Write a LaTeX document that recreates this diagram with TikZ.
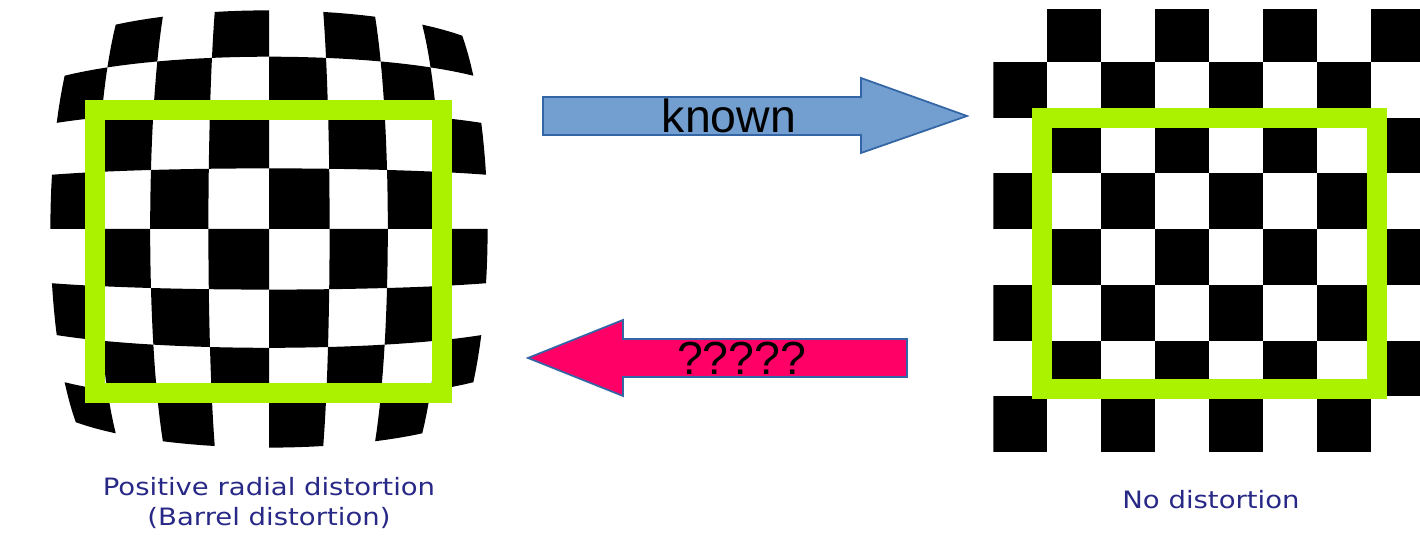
\documentclass[tikz,border=0pt]{standalone}
\usepackage{fontspec}
\setmainfont{Liberation Sans}
\newfontfamily\capfont[FakeStretch=1.15]{DejaVu Sans}
\usepackage{xcolor}
\usepackage{tikz}
\usetikzlibrary{positioning}
\definecolor{knownblue}{RGB}{114,159,207}
\definecolor{rimblue}{RGB}{52,101,164}
\definecolor{askpink}{RGB}{255,0,102}
\definecolor{framegreen}{RGB}{170,242,0}
\definecolor{capnavy}{RGB}{40,40,135}

\begin{document}
\begin{tikzpicture}[x=0.01cm,y=-0.01cm,
arrowbody/.style={draw=rimblue,line width=0.5pt},
arrowtext/.style={anchor=base,inner sep=0pt,font=\fontsize{13.2}{15}\selectfont},
lensframe/.style={draw=framegreen,line width=0.2cm},
caption/.style={text=capnavy,align=center,anchor=base,font=\capfont\fontsize{6.8}{8.8}\selectfont},
declare function={bx(\u,\v)=269+61*\u*(1-0.0065*(\u*\u+\v*\v));
                  by(\u,\v)=229+61*\v*(1-0.0065*(\u*\u+\v*\v));}]
\useasboundingbox (0,0) rectangle (1420,559);

% barrel distorted board
\foreach \c in {0,...,7} {
  \foreach \r in {0,...,7} {
    \pgfmathtruncatemacro\odd{mod(\c+\r,2)}
    \ifnum\odd=1
      \pgfmathsetmacro\ua{\c-4}
      \pgfmathsetmacro\va{\r-4}
      \fill[black] plot[domain=0:1,samples=5,variable=\t] ({bx(\ua+\t,\va)},{by(\ua+\t,\va)})
        -- plot[domain=0:1,samples=5,variable=\t] ({bx(\ua+1,\va+\t)},{by(\ua+1,\va+\t)})
        -- plot[domain=0:1,samples=5,variable=\t] ({bx(\ua+1-\t,\va+1)},{by(\ua+1-\t,\va+1)})
        -- plot[domain=0:1,samples=5,variable=\t] ({bx(\ua,\va+1-\t)},{by(\ua,\va+1-\t)}) -- cycle;
    \fi
  }
}
\draw[lensframe] (95,110) rectangle (441.7,393.3);

% undistorted board
\begin{scope}
\clip (993.3,10) rectangle (1420,452);
\foreach \c in {0,...,7} {
  \foreach \r in {0,...,7} {
    \pgfmathtruncatemacro\odd{mod(\c+\r,2)}
    \ifnum\odd=1
      \fill[black] (993.3+54*\c,6.1+55.75*\r) rectangle ++(54,55.75);
    \fi
  }
}
\end{scope}
\draw[lensframe] (1041.7,117.7) rectangle (1377.3,389.3);

% block arrows
\draw[arrowbody,fill=knownblue] (543,97) -- (861,97) -- (861,78) -- (967,116)
    -- (861,153) -- (861,135) -- (543,135) -- cycle;
\node (known) [arrowtext] at (729,132.7) {known};
\draw[arrowbody,fill=askpink] (907,339) -- (623,339) -- (623,320) -- (528,358)
    -- (623,396) -- (623,377) -- (907,377) -- cycle;
\node (unknown) [arrowtext] at (741.7,375) {?????};

\node (barrelcap) [caption] at (269,526) {Positive radial distortion\\(Barrel distortion)};
\node (flatcap) [caption] at (1211,509) {No distortion};
\end{tikzpicture}
\end{document}
